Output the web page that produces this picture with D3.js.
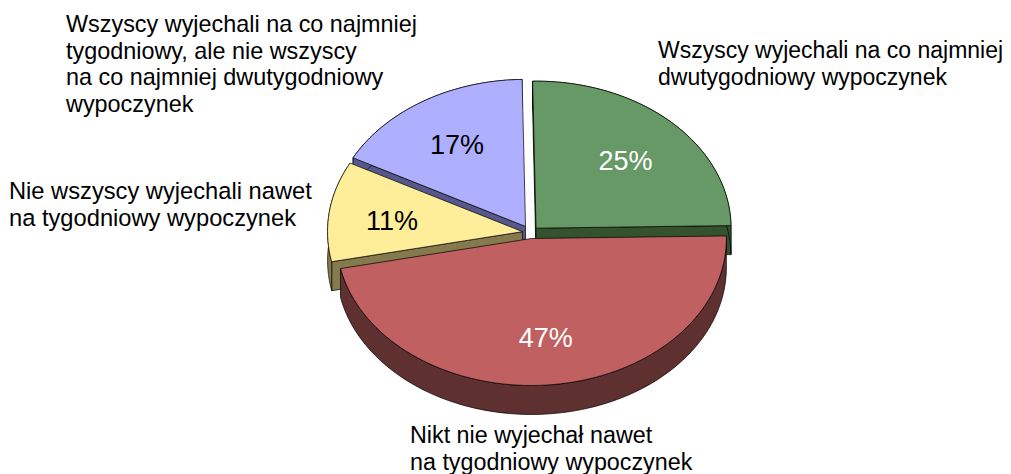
<!DOCTYPE html>
<html>
<head>
<meta charset="utf-8">
<script src="https://d3js.org/d3.v7.min.js"></script>
<style>
  html, body { margin: 0; padding: 0; background: #fff; }
  svg { display: block; }
  text { font-family: "Liberation Sans", Arial, sans-serif; }
</style>
</head>
<body>
<svg id="chart" width="1011" height="474"></svg>
<script>
const categories = [
  ['Wszyscy wyjechali na co najmniej', 'dwutygodniowy wypoczynek'],
  ['Nikt nie wyjechał nawet', 'na tygodniowy wypoczynek'],
  ['Nie wszyscy wyjechali nawet', 'na tygodniowy wypoczynek'],
  ['Wszyscy wyjechali na co najmniej', 'tygodniowy, ale nie wszyscy', 'na co najmniej dwutygodniowy', 'wypoczynek']
];
const values = [25, 47, 11, 17];
const topColors = ['#669966', '#c06060', '#ffee99', '#aeb0ff'];
const sideColors = ['#35522f', '#5f3030', '#847a4d', '#56588c'];
const valueColors = ['#fff', '#fff', '#000', '#000'];
const labelAnchors = [[658, 58], [410, 443], [9, 199], [66, 32]];
const labelSizes = [23, 23.3, 23.7, 23.4];
const valueNudge = [[0, 3], [0, 3], [-3, 3], [-1, 1]];
const explode = [8, 8, 8, 9.5];

const cx = 530.5, cy = 232.5;
const rx = 195, ry = 147;
const depth = 29;
const startDeg = -1;

const svg = d3.select('#chart');

const pie = d3.pie().sort(null)
  .startAngle(startDeg * Math.PI / 180)
  .endAngle((startDeg + 360) * Math.PI / 180);
const arcs = pie(values);

const line = d3.line().x(d => d[0]).y(d => d[1]);

// order the slices back to front, the red one goes on top of the others
const order = [3, 0, 2, 1];

order.forEach(i => {
  const a = arcs[i];
  const mid = (a.startAngle + a.endAngle) / 2;
  const ox = cx + Math.sin(mid) * explode[i];
  const oy = cy - Math.cos(mid) * explode[i] * ry / rx;
  const onRim = t => [ox + Math.sin(t) * rx, oy - Math.cos(t) * ry];
  const rim = d3.range(0, 81).map(k => onRim(a.startAngle + (a.endAngle - a.startAngle) * k / 80));
  const down = p => [p[0], p[1] + depth];
  const g = svg.append('g');

  // cut faces only when they look towards the viewer, then the outer wall
  const walls = [];
  if (Math.cos(a.startAngle - Math.PI / 2) < 0) walls.push([[ox, oy], rim[0], down(rim[0]), [ox, oy + depth]]);
  if (Math.cos(a.endAngle + Math.PI / 2) < 0) walls.push([[ox, oy], rim[80], down(rim[80]), [ox, oy + depth]]);
  walls.push(rim.concat(rim.slice().reverse().map(down)));
  walls.forEach(w => {
    g.append('path')
      .attr('d', line(w) + 'Z')
      .attr('fill', sideColors[i])
      .attr('stroke', '#000')
      .attr('stroke-width', 0.7)
      .attr('stroke-linejoin', 'round');
  });

  // top face
  g.append('path')
    .attr('d', line([[ox, oy]].concat(rim)) + 'Z')
    .attr('fill', topColors[i])
    .attr('stroke', '#000')
    .attr('stroke-width', 0.7)
    .attr('stroke-linejoin', 'round');
});

// percent labels
arcs.forEach((a, i) => {
  const mid = (a.startAngle + a.endAngle) / 2;
  const ox = cx + Math.sin(mid) * explode[i];
  const oy = cy - Math.cos(mid) * explode[i] * ry / rx;
  svg.append('text')
    .attr('x', ox + Math.sin(mid) * rx * 0.66 + valueNudge[i][0])
    .attr('y', oy - Math.cos(mid) * ry * 0.66 + 9 + valueNudge[i][1])
    .attr('text-anchor', 'middle')
    .attr('font-size', 27)
    .attr('fill', valueColors[i])
    .text(values[i] + '%');
});

// category labels
categories.forEach((lines, i) => {
  const t = svg.append('text')
    .attr('font-size', labelSizes[i])
    .attr('fill', '#000');
  lines.forEach((s, j) => {
    t.append('tspan')
      .attr('x', labelAnchors[i][0])
      .attr('y', labelAnchors[i][1] + j * 26.5)
      .text(s);
  });
});
</script>
</body>
</html>
